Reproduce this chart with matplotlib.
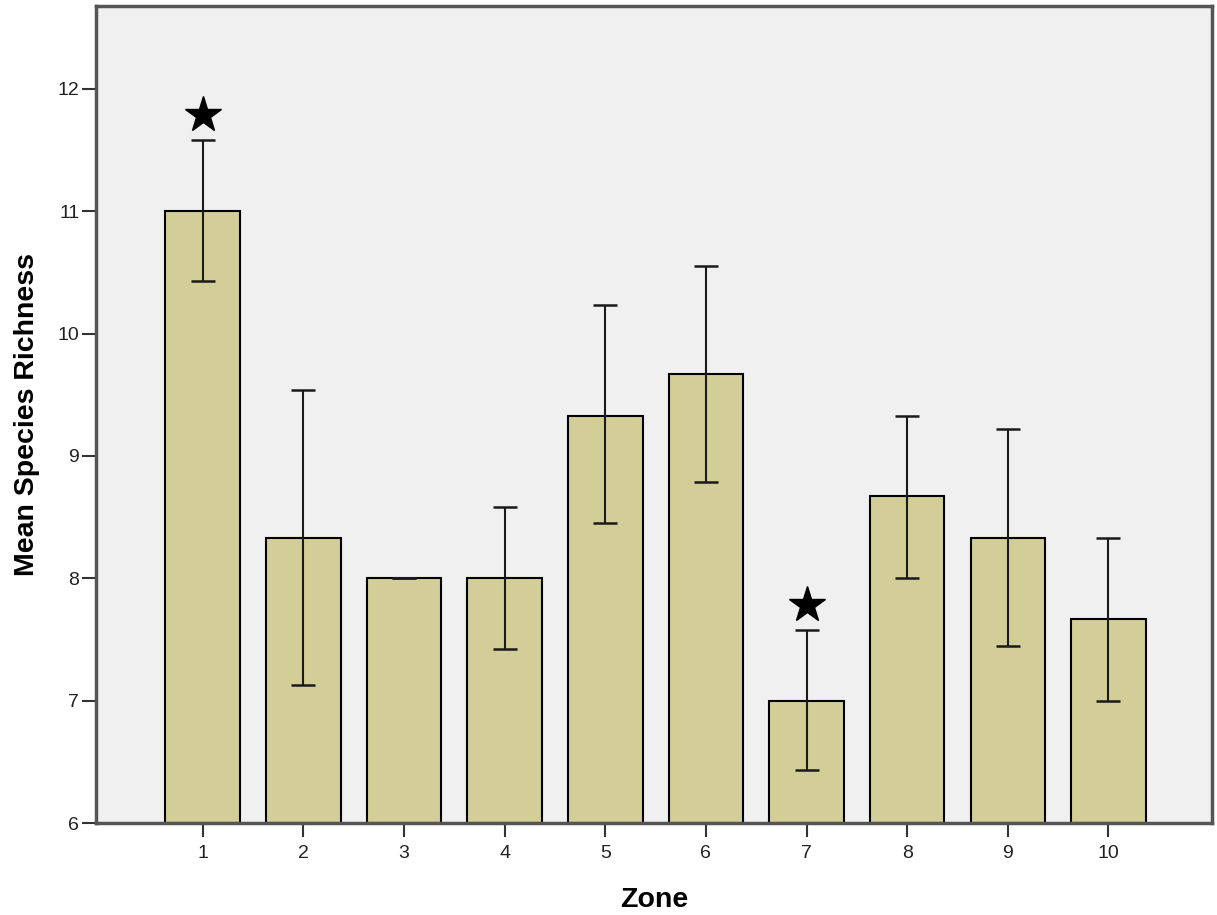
import matplotlib.pyplot as plt
import numpy as np

zones = [1, 2, 3, 4, 5, 6, 7, 8, 9, 10]
means = [11.0, 8.33, 8.0, 8.0, 9.33, 9.67, 7.0, 8.67, 8.33, 7.67]
err_low = [10.43, 7.13, 8.0, 7.42, 8.45, 8.79, 6.43, 8.0, 7.45, 7.0]
err_high = [11.58, 9.54, 8.0, 8.58, 10.23, 10.55, 7.58, 9.33, 9.22, 8.33]

# significance stars
star_zones = [1, 7]
star_y = [11.79, 7.78]

plt.rcParams['font.family'] = ['Liberation Sans', 'DejaVu Sans']

fig = plt.figure(figsize=(12.17, 9.15), dpi=100)
ax = fig.add_axes([0.0789, 0.1005, 0.9171, 0.8933])
ax.set_facecolor('#f0f0f0')

means = np.array(means)
yerr = [means - np.array(err_low), np.array(err_high) - means]

ax.bar(zones, means - 6, bottom=6, width=0.74, color='#d3ce97',
       edgecolor='black', linewidth=1.5, zorder=2)
ax.errorbar(zones, means, yerr=yerr, fmt='none', ecolor='#1a1a1a',
            elinewidth=1.5, capsize=8.6, capthick=1.8, zorder=3)
ax.plot(star_zones, star_y, linestyle='none', marker='*', ms=27,
        color='black', zorder=4)

ax.set_xlim(-0.06, 11.03)
ax.set_ylim(6, 12.68)
ax.set_xticks(zones)
ax.set_yticks([6, 7, 8, 9, 10, 11, 12])

for s in ax.spines.values():
    s.set_color('#555555')
    s.set_linewidth(2.5)

ax.tick_params(axis='both', length=10, width=1.5, color='#333333',
               labelsize=14, labelcolor='#222222')
ax.tick_params(axis='y', pad=2)
ax.tick_params(axis='x', pad=6)

ax.set_xlabel('Zone', fontsize=20.5, fontweight='bold', labelpad=18)
ax.set_ylabel('Mean Species Richness', fontsize=20.5, fontweight='bold', labelpad=13)

plt.savefig('out.png', dpi=100)
